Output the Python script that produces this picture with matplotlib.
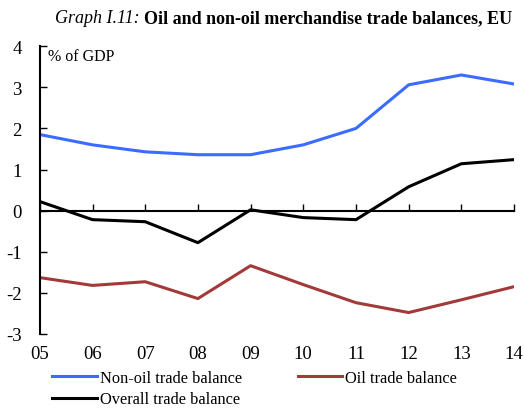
import matplotlib.pyplot as plt

plt.rcParams['font.family'] = ['Liberation Serif', 'DejaVu Serif']

years = ['05', '06', '07', '08', '09', '10', '11', '12', '13', '14']
non_oil = [1.85, 1.60, 1.43, 1.36, 1.36, 1.60, 2.00, 3.06, 3.30, 3.08]
oil = [-1.63, -1.82, -1.73, -2.14, -1.34, -1.80, -2.24, -2.48, -2.17, -1.85]
overall = [0.22, -0.22, -0.27, -0.78, 0.02, -0.17, -0.22, 0.58, 1.14, 1.24]

x = list(range(len(years)))

fig = plt.figure(figsize=(5.24, 4.14), dpi=100)
ax = fig.add_axes([0.076, 0.191, 0.905, 0.695])

l1, = ax.plot(x, non_oil, color='#3b6cff', lw=2.2, label='Non-oil trade balance')
l2, = ax.plot(x, oil, color='#a23a3a', lw=2.2, label='Oil trade balance')
l3, = ax.plot(x, overall, color='black', lw=2.2, label='Overall trade balance')

ax.set_xlim(0, len(years) - 1)
ax.set_ylim(-3, 4)
ax.set_yticks(range(-3, 5))
ax.set_yticklabels([str(v) for v in range(-3, 5)])

for s in ['top', 'right', 'bottom']:
    ax.spines[s].set_visible(False)
ax.spines['left'].set_linewidth(1.5)
ax.tick_params(axis='y', direction='in', length=5, width=1, labelsize=13.5, pad=13)

# x labels at the bottom, no tick marks
ax.set_xticks(x)
ax.set_xticklabels(years)
ax.tick_params(axis='x', length=0, labelsize=13.5, pad=8)

# zero line with small upward ticks
zero = ax.secondary_xaxis(0, transform=ax.transData)
zero.set_xticks(x)
zero.set_xticklabels([])
zero.spines['bottom'].set_linewidth(1.5)
zero.tick_params(direction='in', length=5, width=1)

ax.text(0.018, 0.995, '% of GDP', transform=ax.transAxes, fontsize=11.5, va='top', ha='left')

# title: italic part then bold part
t1 = fig.text(55 / 524, 0.955, 'Graph I.11:', fontsize=13, style='italic', ha='left', va='center')
fig.canvas.draw()
bb = t1.get_window_extent()
fig.text((bb.x1 + 4) / fig.bbox.width, 0.955, 'Oil and non-oil merchandise trade balances, EU',
         fontsize=13, weight='bold', ha='left', va='center')

fig.legend([l1, l3, l2], ['Non-oil trade balance', 'Overall trade balance', 'Oil trade balance'],
           ncol=2, frameon=False, fontsize=11.8, loc='lower left', bbox_to_anchor=(0.072, -0.022),
           handlelength=2.7, handletextpad=0.2, columnspacing=3.4, labelspacing=0.35)

fig.savefig('out.png', dpi=100)
